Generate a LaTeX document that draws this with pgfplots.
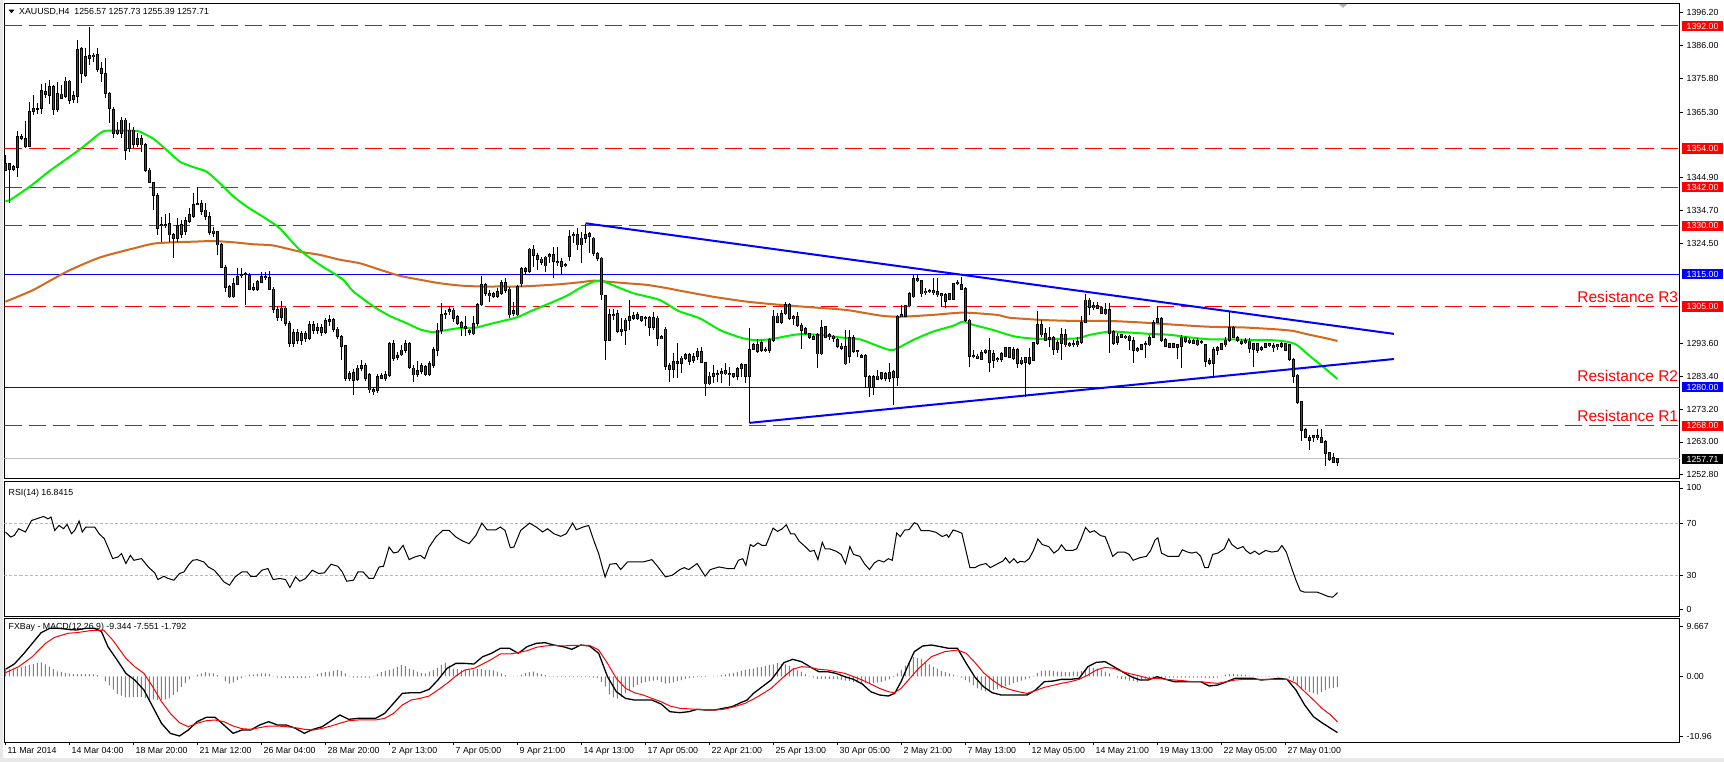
\documentclass[border=0pt]{standalone}
\usepackage{fontspec}
\setmainfont{Liberation Sans}
\usepackage{pgfplots}
\usepackage{pgfplotstable}
\pgfplotsset{compat=1.18}
\definecolor{mtred}{RGB}{255,0,0}
\definecolor{mtblue}{RGB}{0,0,255}
\definecolor{mtgreen}{RGB}{0,240,0}
\definecolor{mtorange}{RGB}{210,105,30}
\definecolor{bull}{RGB}{0,120,0}
\definecolor{bear}{RGB}{255,0,0}
\definecolor{histgrey}{RGB}{128,128,128}
\newcommand{\tf}{\fontsize{8.8}{10.5}\selectfont}

\pgfplotstableread{
i O H L C
0 1347.3 1352.0 1347.0 1349.4
1 1349.2 1349.5 1337.0 1347.6
2 1347.6 1349.0 1347.0 1348.4
3 1348.1 1359.4 1345.1 1357.7
4 1357.7 1358.5 1356.5 1357.2
5 1357.2 1362.5 1354.1 1354.6
6 1354.6 1368.3 1354.6 1365.4
7 1365.4 1370.6 1364.4 1366.5
8 1366.3 1368.0 1364.6 1366.5
9 1366.5 1374.1 1364.6 1372.0
10 1370.8 1374.2 1369.6 1371.7
11 1370.4 1375.3 1367.9 1373.1
12 1373.1 1373.7 1364.4 1366.2
13 1366.2 1374.7 1365.4 1370.9
14 1370.9 1373.7 1369.4 1369.6
15 1370.1 1376.3 1369.8 1374.9
16 1374.9 1375.2 1367.7 1369.0
17 1369.3 1371.8 1368.0 1370.3
18 1370.1 1387.7 1368.0 1384.6
19 1384.9 1385.6 1374.2 1377.3
20 1376.8 1385.1 1376.1 1382.5
21 1382.0 1391.8 1379.9 1382.8
22 1382.7 1383.5 1380.9 1383.0
23 1383.0 1385.1 1377.8 1378.6
24 1378.7 1380.9 1374.7 1377.3
25 1377.3 1382.0 1369.6 1371.1
26 1371.1 1371.6 1361.8 1366.5
27 1366.2 1367.0 1357.2 1358.7
28 1358.6 1362.3 1358.2 1359.7
29 1358.7 1363.9 1357.2 1362.8
30 1362.8 1363.4 1350.4 1353.5
31 1354.1 1361.8 1353.0 1359.7
32 1359.7 1360.8 1354.3 1355.3
33 1355.3 1358.8 1354.6 1357.2
34 1357.2 1358.2 1353.0 1355.1
35 1355.1 1355.6 1346.8 1347.1
36 1347.3 1347.9 1343.2 1343.5
37 1343.5 1343.7 1334.9 1339.4
38 1339.5 1340.1 1327.2 1329.2
39 1330.0 1332.9 1325.1 1330.5
40 1330.5 1333.6 1329.2 1330.0
41 1330.8 1333.9 1325.1 1327.2
42 1327.2 1327.7 1320.1 1326.1
43 1326.1 1332.3 1325.1 1330.1
44 1330.3 1331.8 1326.1 1327.4
45 1328.2 1332.9 1327.2 1331.7
46 1331.3 1335.4 1330.8 1333.4
47 1332.9 1340.1 1332.3 1336.7
48 1336.5 1342.2 1336.5 1336.8
49 1336.8 1338.0 1333.4 1334.6
50 1334.9 1337.0 1331.8 1332.9
51 1332.8 1334.4 1327.2 1328.0
52 1328.4 1329.8 1326.7 1327.7
53 1328.2 1328.4 1321.0 1324.1
54 1324.1 1324.6 1316.8 1317.1
55 1317.1 1317.9 1309.6 1310.8
56 1311.1 1311.7 1307.5 1308.0
57 1308.0 1313.7 1307.5 1312.2
58 1311.9 1316.8 1311.7 1314.2
59 1314.6 1316.8 1313.7 1315.0
60 1315.0 1315.8 1305.5 1315.3
61 1314.5 1315.3 1310.1 1310.4
62 1310.8 1312.2 1309.9 1310.4
63 1310.4 1313.2 1309.8 1312.7
64 1312.4 1315.6 1312.2 1314.2
65 1313.9 1315.8 1313.2 1314.2
66 1313.9 1316.0 1310.1 1310.3
67 1310.4 1311.0 1303.0 1304.0
68 1304.0 1305.0 1300.5 1301.5
69 1301.5 1306.7 1300.5 1304.5
70 1304.5 1305.0 1299.0 1299.8
71 1299.8 1300.5 1292.5 1293.5
72 1293.5 1298.0 1292.5 1297.0
73 1297.0 1298.0 1293.5 1294.5
74 1294.5 1297.5 1293.0 1296.5
75 1296.5 1297.5 1294.0 1295.0
76 1295.0 1300.5 1294.5 1299.5
77 1299.5 1300.5 1296.5 1297.5
78 1297.5 1300.0 1296.5 1298.5
79 1298.5 1299.5 1296.0 1297.0
80 1297.0 1301.5 1296.5 1300.5
81 1300.5 1302.5 1299.0 1301.0
82 1301.0 1301.5 1297.0 1298.0
83 1298.0 1298.5 1295.0 1295.8
84 1295.7 1296.2 1288.4 1292.6
85 1292.8 1293.0 1282.0 1282.8
86 1282.8 1285.0 1282.0 1284.3
87 1284.5 1285.5 1277.6 1282.2
88 1282.4 1287.0 1282.0 1285.9
89 1285.9 1288.3 1285.0 1286.6
90 1286.6 1287.5 1282.0 1282.8
91 1283.8 1284.5 1278.3 1279.1
92 1279.1 1280.0 1277.6 1278.6
93 1279.1 1284.0 1278.3 1283.3
94 1282.8 1284.5 1282.5 1283.5
95 1282.8 1285.0 1282.0 1284.0
96 1283.6 1294.0 1283.0 1293.4
97 1293.4 1294.5 1288.0 1288.9
98 1289.3 1291.0 1288.5 1289.7
99 1290.0 1293.0 1289.5 1291.5
100 1291.3 1294.5 1290.5 1293.6
101 1293.6 1294.0 1285.5 1286.2
102 1285.9 1287.0 1281.5 1283.8
103 1284.0 1288.0 1283.0 1285.0
104 1284.8 1287.5 1284.0 1286.6
105 1286.4 1287.0 1283.5 1284.0
106 1284.0 1288.0 1283.5 1287.2
107 1286.6 1292.5 1286.0 1291.5
108 1291.5 1300.0 1289.5 1297.7
109 1297.7 1306.0 1296.5 1302.4
110 1302.4 1304.0 1301.0 1302.9
111 1303.4 1305.0 1302.5 1303.9
112 1303.9 1304.5 1300.3 1301.4
113 1301.9 1302.5 1299.3 1299.8
114 1300.0 1300.5 1295.7 1298.6
115 1298.8 1301.9 1295.7 1298.3
116 1297.5 1298.0 1296.0 1297.0
117 1296.5 1301.9 1296.2 1299.8
118 1299.8 1306.0 1299.0 1305.5
119 1305.5 1314.3 1305.0 1311.7
120 1311.7 1312.2 1308.1 1309.1
121 1309.1 1310.1 1306.5 1308.3
122 1309.1 1309.5 1307.5 1308.1
123 1308.1 1310.7 1307.6 1309.6
124 1309.1 1313.3 1308.6 1312.4
125 1312.4 1313.8 1309.1 1310.1
126 1310.4 1311.2 1301.4 1302.4
127 1302.9 1306.5 1301.9 1303.7
128 1302.4 1311.7 1301.9 1311.2
129 1312.0 1317.4 1311.2 1316.7
130 1315.8 1317.4 1314.8 1316.7
131 1315.8 1323.2 1315.5 1322.8
132 1322.8 1324.1 1317.4 1320.8
133 1320.9 1321.7 1316.4 1319.5
134 1319.7 1320.3 1318.0 1318.6
135 1317.6 1320.8 1315.8 1320.3
136 1320.5 1321.5 1318.4 1321.0
137 1318.9 1323.6 1313.8 1321.0
138 1318.9 1323.6 1317.4 1318.6
139 1318.8 1320.0 1314.8 1317.4
140 1317.9 1318.4 1317.1 1317.6
141 1320.5 1328.8 1319.0 1326.7
142 1326.9 1328.2 1324.6 1327.2
143 1327.2 1329.3 1322.5 1324.1
144 1324.1 1328.2 1318.4 1326.2
145 1326.0 1330.6 1324.6 1327.4
146 1327.7 1328.2 1321.5 1326.7
147 1326.2 1326.7 1320.5 1321.5
148 1321.5 1322.0 1319.0 1320.0
149 1320.0 1320.5 1307.0 1308.6
150 1308.3 1308.6 1288.3 1294.6
151 1294.4 1304.2 1294.2 1302.4
152 1302.4 1304.2 1300.8 1302.1
153 1302.7 1304.0 1296.7 1297.2
154 1298.0 1301.4 1295.7 1297.2
155 1297.7 1301.4 1293.1 1300.8
156 1300.8 1307.0 1297.7 1301.9
157 1302.1 1303.4 1300.8 1301.4
158 1301.4 1303.4 1300.8 1302.4
159 1301.9 1302.2 1300.3 1300.8
160 1301.6 1302.1 1299.0 1301.2
161 1301.6 1302.0 1295.9 1298.6
162 1298.6 1303.4 1297.8 1301.6
163 1301.4 1301.9 1292.8 1295.2
164 1295.7 1296.2 1294.8 1295.0
165 1298.0 1298.6 1285.3 1286.4
166 1286.6 1287.4 1281.7 1285.5
167 1285.5 1290.5 1282.8 1287.9
168 1287.9 1293.6 1282.8 1287.4
169 1287.4 1289.7 1284.3 1289.0
170 1289.0 1290.5 1288.4 1290.0
171 1290.0 1290.5 1287.0 1287.9
172 1288.2 1290.5 1287.4 1289.4
173 1289.4 1292.0 1288.4 1291.0
174 1291.0 1292.3 1287.4 1287.6
175 1287.7 1287.9 1277.3 1281.0
176 1281.0 1284.8 1280.6 1283.4
177 1283.4 1286.9 1281.2 1284.1
178 1283.8 1285.3 1281.7 1284.3
179 1284.1 1285.8 1281.2 1284.8
180 1285.1 1287.4 1283.7 1284.1
181 1284.3 1286.3 1280.3 1284.0
182 1284.1 1284.5 1282.8 1283.2
183 1283.4 1286.3 1282.2 1285.8
184 1285.8 1287.4 1283.2 1286.9
185 1286.9 1286.9 1281.2 1283.2
186 1283.2 1298.2 1268.9 1291.7
187 1291.7 1293.6 1291.5 1293.1
188 1291.0 1294.8 1290.5 1293.1
189 1291.3 1294.6 1291.0 1293.8
190 1291.7 1292.5 1291.0 1291.3
191 1291.5 1295.1 1290.5 1294.6
192 1294.6 1303.9 1294.1 1302.0
193 1302.0 1302.9 1299.8 1300.0
194 1300.0 1303.9 1299.6 1302.7
195 1302.7 1306.5 1302.4 1305.5
196 1305.5 1306.0 1300.8 1301.3
197 1301.3 1302.4 1299.3 1301.8
198 1301.8 1303.4 1298.5 1299.0
199 1299.0 1299.8 1291.7 1297.7
200 1298.2 1298.7 1296.2 1296.7
201 1296.7 1296.9 1294.8 1295.4
202 1295.6 1296.2 1294.6 1294.8
203 1296.2 1296.7 1285.8 1290.3
204 1290.3 1300.8 1290.0 1298.5
205 1298.7 1299.0 1295.1 1295.4
206 1296.2 1296.7 1294.6 1295.8
207 1295.8 1296.2 1294.1 1295.1
208 1294.8 1295.1 1292.0 1292.5
209 1292.7 1293.6 1291.5 1292.0
210 1292.5 1297.7 1286.9 1287.2
211 1289.4 1297.7 1287.4 1295.4
212 1295.4 1296.2 1290.5 1291.0
213 1291.3 1291.5 1289.4 1290.9
214 1289.2 1290.3 1288.9 1289.9
215 1289.9 1290.3 1279.6 1283.2
216 1283.2 1283.7 1277.0 1279.9
217 1279.9 1283.7 1277.5 1283.2
218 1282.4 1285.3 1282.2 1283.4
219 1282.7 1284.8 1282.2 1284.5
220 1284.1 1284.8 1282.0 1282.7
221 1282.7 1287.4 1281.7 1284.5
222 1284.8 1285.3 1274.4 1282.9
223 1282.9 1302.4 1280.3 1301.8
224 1301.8 1305.5 1301.8 1302.4
225 1302.0 1305.5 1301.8 1305.2
226 1305.2 1309.6 1304.9 1309.1
227 1308.0 1314.8 1307.5 1313.7
228 1313.7 1315.0 1312.7 1313.0
229 1313.0 1313.2 1308.0 1308.9
230 1309.8 1310.6 1308.6 1309.3
231 1309.9 1310.3 1309.1 1309.6
232 1309.9 1313.7 1308.6 1309.3
233 1309.6 1313.7 1308.0 1308.6
234 1308.9 1309.1 1304.9 1308.3
235 1306.5 1309.1 1304.4 1308.6
236 1307.2 1309.3 1307.0 1309.1
237 1307.2 1312.4 1307.0 1312.2
238 1312.0 1313.2 1311.7 1312.4
239 1311.9 1314.2 1310.1 1310.3
240 1310.6 1311.1 1300.3 1300.8
241 1300.8 1301.0 1286.3 1289.4
242 1289.9 1291.5 1288.9 1289.4
243 1289.6 1290.3 1288.6 1288.9
244 1288.6 1291.5 1288.4 1290.7
245 1290.7 1291.7 1290.3 1291.5
246 1291.3 1295.1 1284.8 1287.6
247 1288.4 1291.5 1285.8 1290.5
248 1288.9 1289.4 1287.9 1288.6
249 1288.6 1291.0 1287.9 1290.5
250 1289.6 1292.5 1289.4 1292.3
251 1292.3 1292.5 1288.9 1289.2
252 1288.9 1292.5 1288.4 1291.7
253 1291.7 1292.0 1285.8 1287.4
254 1288.4 1289.4 1286.9 1287.4
255 1289.2 1289.4 1277.0 1287.6
256 1287.4 1292.0 1286.9 1289.2
257 1288.4 1294.1 1288.2 1293.8
258 1293.6 1303.6 1293.1 1299.3
259 1299.3 1300.8 1295.6 1296.2
260 1296.5 1298.2 1294.4 1294.6
261 1294.8 1298.5 1292.5 1295.4
262 1295.4 1295.8 1289.9 1291.7
263 1291.7 1294.6 1290.5 1293.8
264 1293.6 1298.2 1288.4 1296.2
265 1296.2 1297.9 1292.5 1293.1
266 1293.4 1294.1 1292.3 1292.8
267 1293.6 1294.6 1292.5 1293.1
268 1293.1 1295.4 1292.5 1294.1
269 1293.8 1302.0 1293.4 1300.0
270 1300.0 1308.9 1299.8 1307.0
271 1307.0 1307.5 1302.4 1304.7
272 1305.2 1306.5 1303.9 1304.7
273 1305.2 1306.5 1304.1 1304.4
274 1304.7 1305.2 1302.7 1302.9
275 1302.7 1306.2 1302.4 1303.9
276 1303.9 1306.2 1290.7 1296.7
277 1297.2 1297.7 1293.1 1293.6
278 1293.8 1296.7 1293.1 1295.8
279 1296.2 1296.5 1295.1 1295.4
280 1295.8 1296.2 1294.8 1295.4
281 1295.8 1296.2 1291.5 1294.4
282 1294.4 1295.4 1287.4 1291.3
283 1292.0 1292.5 1291.0 1291.3
284 1291.7 1293.4 1291.5 1293.1
285 1293.1 1294.4 1288.9 1293.6
286 1293.1 1296.2 1292.8 1295.4
287 1295.4 1300.8 1295.1 1300.0
288 1300.0 1305.2 1299.8 1301.3
289 1301.3 1301.8 1294.1 1294.6
290 1294.6 1295.1 1292.3 1292.5
291 1293.4 1293.8 1292.0 1292.3
292 1293.4 1293.8 1292.0 1292.3
293 1293.1 1293.4 1288.6 1292.3
294 1292.5 1296.2 1285.8 1295.4
295 1295.4 1295.8 1293.8 1294.1
296 1294.6 1295.1 1293.4 1293.8
297 1294.4 1294.8 1293.4 1293.6
298 1294.4 1295.1 1292.8 1293.1
299 1294.1 1294.6 1293.4 1293.8
300 1293.1 1293.4 1286.1 1287.9
301 1288.2 1288.9 1286.9 1287.4
302 1287.4 1292.5 1283.4 1291.7
303 1291.5 1292.8 1290.0 1292.3
304 1291.7 1293.8 1291.5 1293.4
305 1293.1 1295.4 1292.5 1294.6
306 1294.4 1303.4 1294.1 1298.5
307 1298.5 1298.9 1295.1 1295.4
308 1295.4 1295.8 1294.1 1294.6
309 1294.1 1294.8 1293.1 1293.6
310 1294.4 1295.1 1293.4 1293.8
311 1294.1 1295.1 1290.5 1292.0
312 1293.4 1293.8 1286.3 1291.7
313 1293.4 1293.6 1290.7 1291.5
314 1292.3 1292.8 1291.3 1291.7
315 1292.3 1293.6 1292.0 1293.4
316 1293.4 1293.8 1292.3 1292.8
317 1292.8 1293.6 1291.0 1292.3
318 1293.1 1293.4 1291.5 1292.5
319 1292.5 1294.1 1292.0 1293.6
320 1293.4 1293.8 1291.3 1291.5
321 1293.1 1293.4 1288.2 1288.6
322 1288.6 1288.9 1281.4 1283.4
323 1283.7 1284.0 1274.8 1275.2
324 1275.5 1275.8 1263.4 1266.5
325 1266.9 1267.2 1264.1 1264.4
326 1263.4 1265.1 1260.5 1264.4
327 1264.4 1265.1 1263.1 1264.9
328 1264.9 1266.9 1263.6 1264.4
329 1264.4 1266.9 1262.6 1262.8
330 1263.1 1263.6 1255.5 1259.3
331 1259.7 1260.0 1257.2 1257.6
332 1258.2 1259.7 1256.4 1256.6
333 1256.57 1257.73 1255.39 1257.71
}\candles

\pgfplotsset{
  mt/.style={
    scale only axis, width=1675.5pt, xmin=-0.25, xmax=418.625,
    axis line style={black, line width=1pt},
    clip mode=individual,
    ytick pos=right, yticklabel pos=right,
    tick align=outside, major tick length=3pt,
    tick style={black, line width=0.7pt},
    yticklabel style={font=\tf, anchor=west, inner sep=0pt, xshift=3.5pt},
    xticklabel style={font=\tf},
  },
  hline/.style={line width=1pt, forget plot},
}

\begin{document}
\begin{tikzpicture}[x=1pt,y=1pt]
\fill[white] (0,0) rectangle (1724,762);
\useasboundingbox (0,0) rectangle (1724,762);
\fill[gray!18] (0,0) rectangle (1724,3.5);
\fill[gray!18] (0,0) rectangle (3,762);

% ---------------- main price panel ----------------
\begin{axis}[mt, at={(4.5pt,283.3pt)}, anchor=south west, height=475.4pt,
  ymin=1251.58, ymax=1399.04, xtick=\empty,
  ytick={1252.8,1263.0,1273.2,1283.4,1293.6,1324.5,1334.7,1344.9,1365.3,1375.8,1386.0,1396.2},
  yticklabels={1252.80,1263.00,1273.20,1283.40,1293.60,1324.50,1334.70,1344.90,1365.30,1375.80,1386.00,1396.20}]
% horizontal levels
\addplot[hline, mtred, dash pattern=on 17pt off 7pt] coordinates {(-0.25,1392) (418.625,1392)};
\addplot[hline, mtred, dash pattern=on 17pt off 7pt] coordinates {(-0.25,1354) (418.625,1354)};
\addplot[hline, mtred, dash pattern=on 17pt off 7pt] coordinates {(-0.25,1342) (418.625,1342)};
\addplot[hline, mtred, dash pattern=on 17pt off 7pt] coordinates {(-0.25,1330) (418.625,1330)};
\addplot[hline, mtred, dash pattern=on 17pt off 7pt] coordinates {(-0.25,1305) (418.625,1305)};
\addplot[hline, mtred, dash pattern=on 17pt off 7pt] coordinates {(-0.25,1268) (418.625,1268)};
\addplot[hline, mtblue] coordinates {(-0.25,1315) (418.625,1315)};
\addplot[hline, mtblue] coordinates {(-0.25,1280) (418.625,1280)};
\addplot[hline, gray!50] coordinates {(-0.25,1257.71) (418.625,1257.71)};
% moving averages
\addplot[mtorange, line width=2pt, smooth, tension=0.4, forget plot] coordinates {
(0,1306.5)(6.9,1310.1)(15.3,1315.8)(23.6,1320.2)(32,1323.0)(37,1324.5)(42,1324.9)(47,1325.1)(52,1325.3)(57,1324.9)(62,1324.3)(67,1323.9)(73.6,1322.0)(78.6,1321.0)(83.6,1319.5)(88.6,1318.4)(93.6,1316.4)(98.6,1314.5)(103.6,1313.3)(108.6,1312.2)(113.6,1311.5)(118.6,1311.2)(123.6,1311.2)(128.6,1311.2)(133.6,1311.5)(138.6,1311.9)(143.6,1312.5)(147,1313.0)(150.3,1312.7)(155.3,1312.2)(160.3,1311.7)(165.3,1310.7)(168.6,1309.9)(177,1308.0)(185.3,1306.5)(193.6,1305.5)(202,1304.7)(210.3,1303.9)(218.6,1302.2)(223.6,1301.8)(232,1302.4)(239.4,1303.1)(247.8,1302.4)(251.1,1301.5)(259.4,1300.8)(267.8,1300.5)(276.1,1300.5)(284.4,1300.0)(292.8,1299.3)(301.1,1298.7)(309.4,1298.5)(317.8,1297.9)(321.9,1297.4)(326.1,1296.2)(330.3,1295.1)(333,1294.3)};
\addplot[mtgreen, line width=2pt, smooth, tension=0.4, forget plot] coordinates {
(0,1337.8)(1.1,1338.0)(6.1,1342.2)(11.1,1347.1)(16.1,1351.5)(19.5,1354.6)(23.6,1358.7)(25.3,1359.5)(32,1359.5)(33.6,1359.2)(37,1357.0)(40.3,1353.5)(43.6,1349.9)(47,1348.2)(50.3,1346.8)(53.6,1343.2)(57,1339.1)(60.3,1336.0)(65.3,1332.1)(68.6,1329.2)(73.6,1322.5)(78.6,1317.9)(82,1315.3)(84.5,1313.2)(87,1309.6)(92,1305.0)(96,1302.1)(100.3,1299.8)(103.6,1297.9)(107,1297.0)(110.3,1297.7)(113.6,1298.3)(117,1298.3)(120.3,1299.3)(123.6,1300.3)(127.8,1301.6)(132,1303.9)(136.1,1306.0)(140.3,1308.3)(143.6,1310.7)(147,1312.7)(149,1313.0)(150.3,1312.4)(153.6,1310.7)(157,1309.1)(160.3,1308.1)(163.6,1307.0)(167,1304.5)(168.6,1303.4)(173.6,1301.3)(178.6,1297.7)(183.6,1295.4)(187,1294.6)(191.1,1294.8)(195.3,1295.8)(198.6,1296.4)(203.6,1296.2)(208.6,1295.4)(213.6,1294.8)(218.6,1292.5)(221.9,1291.5)(226.9,1294.6)(231.9,1297.2)(236.9,1299.0)(239.4,1300.3)(241.9,1299.3)(246.9,1297.7)(251.9,1295.8)(256.1,1295.1)(261.1,1294.9)(267.8,1295.1)(271.1,1296.2)(276.1,1297.2)(281.1,1296.9)(286.1,1296.5)(291.1,1296.2)(296.1,1295.4)(301.1,1294.8)(306.1,1294.8)(311.1,1294.6)(316.1,1294.6)(320.3,1294.1)(322.8,1293.1)(326.1,1289.6)(329.4,1286.3)(333,1282.5)};
% triangle
\addplot[mtblue, line width=2pt, forget plot] coordinates {(145,1330.8) (347.1,1296.5)};
\addplot[mtblue, line width=2pt, forget plot] coordinates {(186,1268.9) (347.1,1288.7)};
% candles: wicks
\addplot[draw=none, mark=none, forget plot,
  error bars/.cd, y dir=both, y explicit, error mark=none,
  error bar style={draw=black, line width=1pt, solid}]
  table[x=i, y expr={(\thisrow{H}+\thisrow{L})/2}, y error expr={(\thisrow{H}-\thisrow{L})/2}] {\candles};
% bodies outline
\addplot[draw=none, mark=none, forget plot,
  error bars/.cd, y dir=both, y explicit, error mark=none,
  error bar style={draw=black, line width=3pt, solid}]
  table[x=i, y expr={(\thisrow{O}+\thisrow{C})/2}, y error expr={abs(\thisrow{C}-\thisrow{O})/2+0.16}] {\candles};
% bull fill
\addplot[draw=none, mark=none, forget plot,
  restrict expr to domain={\thisrow{C}-\thisrow{O}}{0.2:1000},
  error bars/.cd, y dir=both, y explicit, error mark=none,
  error bar style={draw=bull, line width=1.2pt, solid}]
  table[x=i, y expr={(\thisrow{O}+\thisrow{C})/2}, y error expr={abs(\thisrow{C}-\thisrow{O})/2-0.1}] {\candles};
% bear fill
\addplot[draw=none, mark=none, forget plot,
  restrict expr to domain={\thisrow{O}-\thisrow{C}}{0.2:1000},
  error bars/.cd, y dir=both, y explicit, error mark=none,
  error bar style={draw=bear, line width=1.2pt, solid}]
  table[x=i, y expr={(\thisrow{O}+\thisrow{C})/2}, y error expr={abs(\thisrow{C}-\thisrow{O})/2-0.1}] {\candles};
\end{axis}

% ---------------- RSI panel ----------------
\begin{axis}[mt, at={(4.5pt,145.3pt)}, anchor=south west, height=135.4pt,
  ymin=-1.48, ymax=101.94, xtick=\empty,
  ytick={4.1,30,70,96.9}, yticklabels={0,30,70,100}]
\addplot[hline, gray!55, line width=0.8pt, dash pattern=on 3pt off 2pt] coordinates {(-0.25,70) (418.625,70)};
\addplot[hline, gray!55, line width=0.8pt, dash pattern=on 3pt off 2pt] coordinates {(-0.25,30) (418.625,30)};
\addplot[black, line width=1pt, forget plot] coordinates {
(0,63.2)(1.3,59.4)(2.2,60.6)(3.3,65.7)(5,63.2)(6.5,72.0)(7.8,73.3)(9.5,75.1)(10.6,73.3)(11.4,74.6)(12.3,64.4)(13.4,68.2)(14.5,65.7)(15.4,69.0)(16.5,61.9)(17.3,64.4)(18.4,71.5)(19.2,63.2)(20.1,67.0)(22.3,67.0)(23.4,61.9)(24.7,58.1)(25.6,51.7)(26.8,42.9)(28.1,44.1)(29.0,46.7)(30.1,39.1)(31.2,45.4)(32.1,41.6)(34.0,42.9)(35.7,36.5)(37.3,32.0)(38.1,26.9)(39.6,29.4)(40.7,27.7)(42.1,26.4)(43.5,31.5)(44.6,32.7)(45.7,37.8)(46.8,41.6)(47.9,42.1)(49.6,40.3)(50.7,36.5)(52.2,34.0)(53.5,29.4)(54.6,25.1)(56.0,22.6)(57.4,28.9)(59.1,32.7)(60.4,32.7)(61.3,29.4)(62.7,29.4)(64.1,34.0)(65.6,35.3)(66.9,26.9)(68.6,27.7)(70.0,26.9)(71.1,20.8)(72.5,28.9)(73.6,25.6)(75.0,27.7)(76.7,34.0)(78.3,31.5)(79.7,32.0)(81.4,38.6)(83.1,37.0)(84.2,32.7)(85.3,25.6)(87.0,26.4)(88.1,32.7)(89.4,32.7)(90.9,27.7)(92.0,27.7)(93.4,36.5)(94.5,37.0)(95.9,51.7)(97.0,47.2)(98.1,47.9)(99.4,53.0)(100.9,42.1)(102.3,44.1)(103.7,45.4)(104.8,42.9)(105.9,51.7)(107.6,59.4)(109.3,64.4)(110.9,64.4)(112.6,59.4)(114.3,56.3)(115.9,54.3)(117.6,60.6)(119.1,70.0)(120.4,64.9)(122.6,64.9)(123.7,67.0)(124.9,64.4)(126.2,51.2)(127.1,51.7)(128.8,64.4)(131.0,70.0)(132.7,67.0)(134.3,63.2)(135.5,65.7)(137.1,61.9)(138.8,59.9)(140.2,61.9)(141.8,70.0)(142.7,64.9)(144.4,67.0)(145.8,68.2)(147.2,55.6)(148.3,46.7)(149.2,36.5)(149.9,28.9)(151.1,38.6)(152.7,39.1)(153.8,34.5)(155.5,40.3)(159.4,40.3)(161.6,42.1)(162.8,37.8)(165.0,28.9)(166.7,30.2)(168.6,34.5)(169.7,36.0)(170.8,34.5)(172.9,39.1)(174.9,29.5)(176.2,34.5)(178.4,36.5)(180.5,35.3)(182.2,35.3)(183.2,41.6)(184.3,42.8)(185.1,37.8)(186.2,53.6)(187.0,52.1)(188.1,54.9)(189.2,52.9)(190.1,52.9)(191.9,66.2)(193.0,63.7)(194.1,65.5)(195.2,68.7)(196.3,61.7)(197.3,61.7)(198.4,56.2)(200.1,51.6)(201.1,48.4)(202.2,49.1)(203.1,42.1)(204.2,55.4)(204.9,50.4)(206.0,50.4)(207.6,48.6)(208.9,46.1)(210.0,39.1)(211.1,52.1)(212.0,46.1)(213.6,44.6)(214.7,39.1)(216.0,34.5)(217.2,39.6)(218.3,41.6)(219.6,40.3)(220.7,42.8)(221.7,41.6)(222.8,62.5)(223.7,59.7)(224.8,64.7)(225.9,65.0)(227.2,70.3)(228.0,69.2)(228.9,64.2)(231.0,64.2)(232.6,63.0)(234.2,59.7)(235.3,61.2)(235.8,59.2)(236.9,64.7)(238.0,63.7)(239.1,62.2)(241.1,36.0)(242.4,36.0)(243.4,37.8)(245.1,39.1)(246.2,36.0)(247.8,38.6)(249.4,41.1)(250.0,43.6)(251.0,39.6)(252.1,42.8)(253.0,39.6)(253.7,40.8)(254.8,40.3)(255.9,42.8)(257.0,49.1)(258.1,57.9)(259.2,53.6)(260.8,52.1)(262.1,47.1)(263.2,49.6)(264.0,53.4)(265.1,49.1)(266.8,49.1)(267.8,50.4)(268.9,57.9)(270.0,66.7)(271.1,62.9)(272.2,64.2)(273.8,60.4)(274.9,59.7)(275.8,52.9)(276.8,44.6)(278.1,47.9)(279.8,47.9)(280.9,46.1)(281.9,41.6)(283.6,43.6)(285.2,44.6)(286.3,49.1)(287.4,57.2)(288.1,58.7)(289.0,47.1)(290.6,44.6)(292.2,44.6)(293.3,44.6)(294.2,49.6)(295.5,47.9)(296.6,47.1)(297.7,47.9)(298.8,44.6)(299.8,36.0)(300.7,36.0)(301.8,46.1)(303.1,47.1)(304.7,50.4)(305.8,57.9)(306.6,53.6)(308.0,50.4)(309.4,52.1)(310.1,49.1)(311.2,46.6)(312.3,48.6)(313.4,46.1)(315.0,49.1)(316.6,47.9)(318.1,48.6)(319.1,52.9)(320.2,47.9)(321.5,36.0)(322.6,26.5)(323.7,18.4)(324.8,17.2)(328.0,17.2)(329.1,15.9)(330.7,13.9)(331.8,13.4)(333,16.84)};
\end{axis}

% ---------------- MACD panel ----------------
\begin{axis}[mt, at={(4.5pt,19.7pt)}, anchor=south west, height=124pt,
  ymin=-10.96, ymax=9.667,
  ytick={-9.92,0,8.39}, yticklabels={-10.96,0.00,9.667},
  xtick={0,16,32,48,64,80,96,112,128,144,160,176,192,208,224,240,256,272,288,304,320},
  xticklabels={11 Mar 2014,14 Mar 04:00,18 Mar 20:00,21 Mar 12:00,26 Mar 04:00,28 Mar 20:00,2 Apr 13:00,7 Apr 05:00,9 Apr 21:00,14 Apr 13:00,17 Apr 05:00,22 Apr 21:00,25 Apr 13:00,30 Apr 05:00,2 May 21:00,7 May 13:00,12 May 05:00,14 May 21:00,19 May 13:00,22 May 05:00,27 May 01:00},
  xtick pos=bottom, xtick align=outside,
  xticklabel style={anchor=north west, inner sep=0pt, xshift=2pt, yshift=-1.5pt}]
\addplot[ybar, bar width=1pt, fill=histgrey, draw=none, forget plot] coordinates {
(0,1.06)(1,1.15)(2,1.25)(3,1.34)(4,1.5)(5,1.7)(6,1.9)(7,2.05)(8,2.2)(9,2.34)(10,2.0)(11,1.62)(12,1.2)(13,0.85)(14,0.7)(15,0.55)(16,0.45)(17,0.4)(18,0.4)(19,0.4)(20,0.4)(21,0.4)(22,0.35)(23,0.2)(24,0.02)(25,-0.8)(26,-1.5)(27,-2.2)(28,-2.9)(29,-3.2)(30,-3.5)(31,-3.5)(32,-3.4)(33,-3.4)(34,-3.4)(35,-3.6)(36,-3.7)(37,-3.8)(38,-3.9)(39,-3.9)(40,-3.8)(41,-3.6)(42,-3.1)(43,-2.6)(44,-1.8)(45,-1.1)(46,-0.5)(47,0.02)(48,0.3)(49,0.5)(50,0.7)(51,0.6)(52,0.5)(53,0.2)(54,0.02)(55,-0.8)(56,-1.2)(57,-1.0)(58,-0.6)(59,-0.3)(60,0.1)(61,0.3)(62,0.3)(63,0.4)(64,0.5)(65,0.5)(66,0.4)(67,0.1)(68,-0.2)(69,-0.3)(70,-0.3)(71,-0.3)(72,-0.3)(73,-0.3)(74,-0.3)(75,-0.3)(76,-0.2)(77,0.1)(78,0.4)(79,0.6)(80,0.7)(81,0.8)(82,0.9)(83,1.1)(84,0.9)(85,0.5)(86,0.1)(87,-0.2)(88,-0.2)(89,-0.2)(90,-0.2)(91,-0.2)(92,0.1)(93,0.4)(94,0.7)(95,0.9)(96,1.1)(97,1.3)(98,1.6)(99,1.9)(100,1.7)(101,1.3)(102,1.1)(103,0.8)(104,0.6)(105,0.5)(106,0.8)(107,1.1)(108,1.4)(109,1.9)(110,2.3)(111,1.8)(112,1.3)(113,1.2)(114,1.1)(115,1.1)(116,1.1)(117,1.1)(118,1.2)(119,1.2)(120,1.1)(121,1.1)(122,1.0)(123,0.8)(124,0.5)(125,0.2)(126,0.02)(127,0.05)(128,0.1)(129,0.3)(130,0.6)(131,0.7)(132,0.8)(133,0.6)(134,0.4)(135,0.2)(136,0.1)(137,0.05)(138,-0.1)(139,-0.1)(140,-0.1)(141,-0.1)(142,-0.1)(143,-0.1)(144,-0.1)(145,-0.1)(146,-0.1)(147,-0.2)(148,-0.3)(149,-0.9)(150,-1.7)(151,-3.0)(152,-3.5)(153,-3.7)(154,-3.4)(155,-2.8)(156,-2.3)(157,-1.8)(158,-1.4)(159,-1.1)(160,-0.9)(161,-0.8)(162,-0.7)(163,-0.6)(164,-0.9)(165,-1.2)(166,-1.1)(167,-1.0)(168,-0.8)(169,-0.6)(170,-0.4)(171,-0.3)(172,-0.2)(173,-0.1)(174,-0.1)(175,-0.1)(176,0.02)(177,0.1)(178,0.1)(179,0.2)(180,0.35)(181,0.5)(182,0.6)(183,0.75)(184,0.9)(185,1.1)(186,1.2)(187,1.3)(188,1.5)(189,1.6)(190,1.7)(191,1.9)(192,2.0)(193,2.2)(194,2.1)(195,2.0)(196,1.7)(197,1.4)(198,1.0)(199,0.8)(200,0.4)(201,0.1)(202,-0.2)(203,-0.4)(204,-0.4)(205,-0.4)(206,-0.4)(207,-0.4)(208,-0.5)(209,-0.6)(210,-0.7)(211,-0.8)(212,-0.9)(213,-1.0)(214,-1.1)(215,-1.1)(216,-1.1)(217,-1.1)(218,-1.0)(219,-0.9)(220,-0.7)(221,-0.5)(222,-0.1)(223,0.5)(224,1.1)(225,1.8)(226,2.5)(227,3.2)(228,3.1)(229,2.9)(230,2.4)(231,2.0)(232,1.6)(233,1.3)(234,0.9)(235,0.7)(236,0.5)(237,0.3)(238,0.1)(239,-0.2)(240,-0.6)(241,-1.0)(242,-1.5)(243,-2.0)(244,-2.3)(245,-2.5)(246,-2.5)(247,-2.3)(248,-2.1)(249,-1.9)(250,-1.6)(251,-1.4)(252,-1.1)(253,-0.9)(254,-0.7)(255,-0.5)(256,-0.3)(257,0.1)(258,0.6)(259,0.9)(260,1.0)(261,1.0)(262,0.9)(263,0.8)(264,0.8)(265,0.7)(266,0.7)(267,0.8)(268,0.8)(269,0.9)(270,1.2)(271,1.5)(272,1.4)(273,1.3)(274,1.1)(275,0.8)(276,0.5)(277,0.02)(278,-0.2)(279,-0.4)(280,-0.5)(281,-0.7)(282,-0.8)(283,-0.9)(284,-0.7)(285,-0.4)(286,-0.3)(287,-0.2)(288,-0.2)(289,-0.2)(290,-0.2)(291,-0.2)(292,-0.2)(293,-0.2)(294,-0.2)(295,-0.2)(296,-0.2)(297,-0.2)(298,-0.2)(299,-0.2)(300,-0.3)(301,-0.3)(302,-0.3)(303,-0.2)(304,0.1)(305,0.3)(306,0.4)(307,0.4)(308,0.35)(309,0.3)(310,0.2)(311,0.1)(312,0.05)(313,0.05)(314,0.05)(315,0.05)(316,0.05)(317,0.05)(318,0.05)(319,0.05)(320,0.05)(321,-0.3)(322,-0.7)(323,-1.3)(324,-2.0)(325,-2.3)(326,-2.6)(327,-2.8)(328,-3.0)(329,-2.6)(330,-2.3)(331,-2.0)(332,-1.9)(333,-1.79)};
\addplot[black, line width=1.3pt, forget plot] coordinates {
(0,1.18)(2.2,2.06)(4.5,3.73)(6.7,5.50)(8.9,7.27)(11.1,8.00)(13.4,8.00)(15.6,7.83)(17.8,7.72)(20.1,8.00)(22.3,8.00)(24.0,7.45)(25.6,4.95)(27.9,2.73)(30.1,0.51)(32.3,-0.60)(34.6,-2.26)(36.8,-5.03)(39.0,-7.80)(41.2,-9.47)(43.5,-9.91)(45.7,-8.92)(47.9,-7.53)(50.2,-6.81)(52.4,-6.81)(54.6,-8.09)(56.9,-9.47)(59.1,-8.92)(61.3,-8.92)(63.5,-8.09)(65.8,-7.53)(68.0,-8.09)(70.2,-8.09)(72.5,-8.64)(74.7,-9.47)(76.9,-8.80)(79.2,-8.36)(81.4,-7.37)(83.6,-6.42)(85.8,-7.14)(88.1,-6.98)(90.3,-6.98)(92.5,-6.98)(94.8,-6.15)(97.0,-4.48)(99.2,-2.82)(101.4,-2.71)(103.7,-2.71)(105.9,-2.15)(108.1,-0.60)(110.4,1.34)(112.6,2.17)(114.8,2.17)(117.1,2.06)(119.3,3.28)(121.5,3.84)(123.7,4.67)(126.0,4.67)(128.2,3.84)(130.4,4.95)(132.7,5.50)(134.9,5.61)(137.1,5.22)(139.4,4.95)(141.6,4.51)(143.8,5.22)(146.0,5.06)(148.3,3.84)(150.5,-0.04)(152.7,-2.54)(155.0,-3.65)(157.2,-3.93)(159.4,-3.93)(161.6,-3.93)(163.9,-4.59)(166.1,-5.87)(168.6,-6.03)(170.8,-5.87)(172.9,-5.48)(175.1,-5.59)(177.3,-5.59)(179.4,-5.31)(181.6,-5.04)(183.8,-4.37)(185.4,-3.93)(187.0,-2.82)(189.2,-1.71)(191.4,-0.60)(193.0,0.79)(194.6,2.29)(196.8,2.84)(199.0,2.45)(201.1,1.62)(203.3,0.79)(205.5,0.79)(207.6,0.51)(209.8,-0.04)(212.0,-0.49)(214.2,-1.26)(216.3,-2.54)(218.5,-3.09)(220.7,-3.26)(222.3,-2.82)(223.9,-0.88)(225.5,1.62)(227.2,4.12)(229.3,5.06)(231.5,5.22)(233.7,4.95)(235.8,4.67)(238.0,4.67)(240.2,2.17)(242.4,-0.16)(244.5,-1.71)(246.7,-2.71)(248.9,-3.09)(251.0,-3.09)(253.2,-3.09)(255.4,-3.09)(257.5,-2.26)(259.7,-0.88)(261.9,-0.77)(264.0,-0.49)(266.2,-0.49)(268.4,-0.32)(270.6,1.62)(272.7,2.34)(274.9,2.45)(277.1,1.62)(279.2,0.79)(281.4,-0.04)(283.6,-0.60)(285.7,-0.60)(287.9,-0.04)(290.1,-0.49)(292.2,-0.88)(294.4,-0.88)(296.6,-0.88)(298.8,-0.88)(300.9,-1.60)(303.1,-1.43)(305.3,-0.88)(307.4,-0.32)(309.6,-0.32)(311.8,-0.32)(313.9,-0.60)(316.1,-0.49)(318.3,-0.32)(320.4,-0.49)(322.6,-2.26)(324.8,-4.76)(327.0,-6.70)(329.1,-7.70)(331.3,-8.64)(333,-9.344)};
\addplot[mtred, line width=1pt, forget plot] coordinates {
(0,0.62)(3.3,1.62)(6.7,3.28)(10.0,5.50)(12.3,6.50)(15.6,7.17)(17.8,7.28)(21.2,7.61)(24.5,7.72)(26.8,6.06)(30.1,3.01)(32.3,1.62)(34.6,0.51)(36.8,-1.71)(39.0,-4.20)(41.2,-6.15)(43.5,-7.70)(45.7,-8.36)(47.9,-7.80)(50.2,-7.37)(52.4,-7.25)(54.6,-7.53)(56.9,-8.25)(59.1,-8.69)(61.3,-8.80)(63.5,-8.53)(65.8,-8.25)(68.0,-8.25)(70.2,-8.36)(72.5,-8.53)(74.7,-8.80)(76.9,-8.92)(79.2,-8.64)(81.4,-8.25)(83.6,-7.80)(85.8,-7.37)(88.1,-7.25)(90.3,-7.25)(92.5,-7.25)(94.8,-6.98)(97.0,-6.15)(99.2,-4.76)(101.4,-3.93)(103.7,-3.65)(105.9,-3.26)(108.1,-2.26)(110.4,-1.15)(112.6,0.07)(114.8,1.06)(117.1,1.34)(119.3,2.06)(121.5,2.84)(123.7,3.73)(126.0,3.73)(128.2,3.95)(130.4,4.28)(132.7,4.84)(134.9,5.06)(137.1,5.17)(139.4,5.06)(141.6,5.17)(143.8,5.17)(146.0,5.17)(148.3,4.39)(150.5,2.17)(152.7,-0.32)(155.0,-1.98)(157.2,-2.71)(159.4,-3.09)(161.6,-3.65)(163.9,-4.20)(166.1,-4.92)(168.6,-5.31)(172.9,-5.48)(177.3,-5.59)(179.4,-5.48)(181.6,-5.15)(184.9,-4.48)(188.1,-3.37)(191.4,-1.99)(194.6,-0.04)(196.8,1.18)(199.0,1.62)(201.1,1.51)(203.3,1.18)(205.5,1.06)(207.6,0.79)(209.8,0.51)(212.0,-0.04)(214.2,-0.60)(216.3,-1.26)(218.5,-1.99)(220.7,-2.54)(222.3,-2.71)(223.9,-1.99)(226.1,-0.32)(228.3,1.34)(231.5,3.28)(234.8,4.12)(238.0,4.39)(240.2,3.84)(242.4,2.29)(244.5,0.62)(246.7,-0.60)(248.9,-1.60)(251.0,-2.15)(253.2,-2.54)(255.4,-2.82)(257.5,-2.37)(259.7,-1.82)(261.9,-1.49)(264.0,-1.15)(266.2,-0.88)(268.4,-0.49)(270.6,0.23)(272.7,1.06)(274.9,1.51)(277.1,1.34)(279.2,0.79)(281.4,0.40)(283.6,0.07)(285.7,-0.32)(287.9,-0.32)(290.1,-0.49)(292.2,-0.60)(294.4,-0.71)(296.6,-0.88)(298.8,-0.88)(300.9,-1.04)(303.1,-1.15)(305.3,-0.88)(307.4,-0.60)(309.6,-0.49)(311.8,-0.49)(320.4,-0.49)(322.6,-1.15)(324.8,-2.54)(327.0,-3.93)(329.1,-5.31)(331.3,-6.42)(333,-7.551)};
\end{axis}

% ---------------- price tags and labels ----------------
\tikzset{tag/.style={text=white, minimum width=41.6pt, minimum height=10.4pt, inner sep=0pt, font=\tf}}
\node[tag, fill=mtred]  at (1702.5,736.0) {1392.00};
\node[tag, fill=mtred]  at (1702.5,613.5) {1354.00};
\node[tag, fill=mtred]  at (1702.5,574.8) {1342.00};
\node[tag, fill=mtred]  at (1702.5,536.1) {1330.00};
\node[tag, fill=mtblue] at (1702.5,487.8) {1315.00};
\node[tag, fill=mtred]  at (1702.5,455.5) {1305.00};
\node[tag, fill=mtblue] at (1702.5,374.9) {1280.00};
\node[tag, fill=mtred]  at (1702.5,336.2) {1268.00};
\node[tag, fill=black]  at (1702.5,303.0) {1257.71};

\node[anchor=base east, inner sep=0pt, text=mtred, font=\fontsize{15.5}{18}\selectfont] at (1678.3,459.3) {Resistance R3};
\node[anchor=base east, inner sep=0pt, text=mtred, font=\fontsize{15.5}{18}\selectfont] at (1678.3,380.3) {Resistance R2};
\node[anchor=base east, inner sep=0pt, text=mtred, font=\fontsize{15.5}{18}\selectfont] at (1678.3,340.3) {Resistance R1};

\fill[black] (8.5,752.3) -- (14.5,752.3) -- (11.5,748.8) -- cycle;
\node[anchor=west, inner sep=0pt, font=\tf] at (19,750.3) {XAUUSD,H4\ \ 1256.57 1257.73 1255.39 1257.71};
\node[anchor=west, inner sep=0pt, font=\tf] at (8.5,268.5) {RSI(14) 16.8415};
\node[anchor=west, inner sep=0pt, font=\tf] at (8.5,134.5) {FXBay - MACD(12,26,9) -9.344 -7.551 -1.792};
\fill[gray!60] (1338.5,758.2) -- (1347.5,758.2) -- (1343,754.2) -- cycle;
\end{tikzpicture}
\end{document}
